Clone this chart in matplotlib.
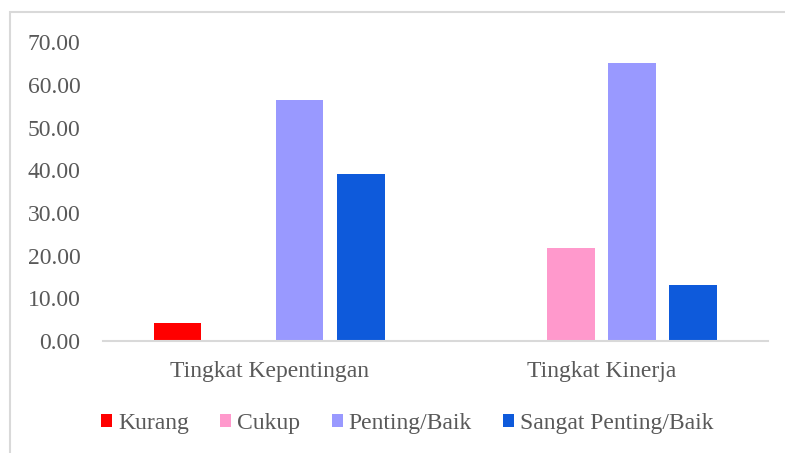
import matplotlib
matplotlib.use("Agg")
import matplotlib.pyplot as plt
import numpy as np
from matplotlib.patches import Rectangle

plt.rcParams['font.family'] = ['Liberation Serif', 'DejaVu Serif']

categories = ["Tingkat Kepentingan", "Tingkat Kinerja"]
series = ["Kurang", "Cukup", "Penting/Baik", "Sangat Penting/Baik"]
kurang = [4.35, 0.0]
cukup = [0.0, 21.74]
penting = [56.52, 65.22]
sangat = [39.13, 13.04]
colors = ["#FF0000", "#FF99CC", "#9999FF", "#0E5ADB"]

fig = plt.figure(figsize=(7.85, 4.53), dpi=100)
ax = fig.add_axes([0.131, 0.247, 0.847, 0.66])

x = np.arange(len(categories))
pitch = 0.1835
width = 0.144
for i, (vals, name) in enumerate(zip([kurang, cukup, penting, sangat], series)):
    ax.bar(x + (i - 1.5) * pitch, vals, width, color=colors[i], label=name)

ax.set_xlim(-0.5, 1.5)
ax.set_ylim(0, 70)
ax.set_yticks(np.arange(0, 71, 10))
ax.set_yticklabels(["%.2f" % v for v in np.arange(0, 71, 10)])
ax.set_xticks(x)
ax.set_xticklabels(categories)
ax.tick_params(axis='both', length=0, labelsize=17, colors='#595959')
ax.tick_params(axis='y', pad=16)
ax.tick_params(axis='x', pad=14)
for s in ['top', 'right', 'left']:
    ax.spines[s].set_visible(False)
ax.spines['bottom'].set_color('#D9D9D9')
ax.spines['bottom'].set_linewidth(1.5)

# outer chart frame
fig.patches.append(Rectangle((10 / 785, -0.05), 1.0, 1 - 12 / 453 + 0.05, transform=fig.transFigure,
                             fill=False, edgecolor='#D9D9D9', linewidth=1.5))

handles, labels = ax.get_legend_handles_labels()
fig.legend(handles, labels, loc='center', bbox_to_anchor=(0.519, 0.066), ncol=4, frameon=False,
           fontsize=17, labelcolor='#595959', handlelength=0.47, handleheight=0.47,
           handletextpad=0.25, columnspacing=1.33)

fig.savefig("out.png", dpi=100)
